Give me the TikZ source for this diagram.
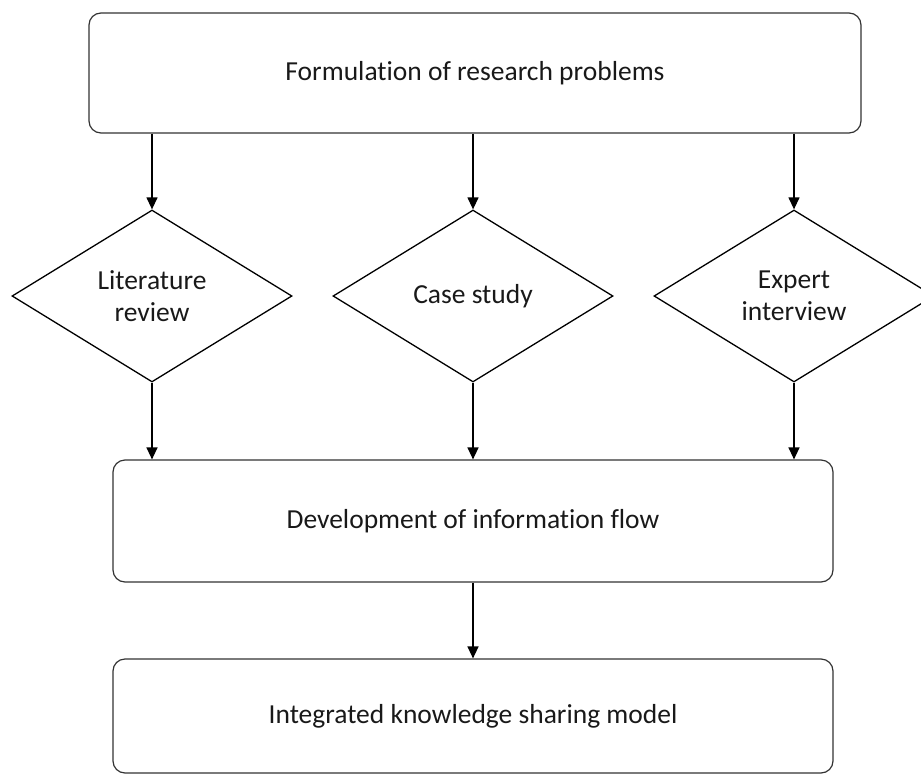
\documentclass[tikz,border=0pt]{standalone}
\usepackage{fontspec}
\setmainfont[RawFeature=-liga]{Carlito}
\usetikzlibrary{shapes.geometric,arrows.meta}
\begin{document}
\begin{tikzpicture}[x=1pt,y=-1pt,
  box/.style={draw=black!80, line width=1.2pt, rounded corners=12pt, inner sep=0pt, text=black!90, font=\fontsize{27.5}{32}\selectfont},
  dia/.style={draw=black, line width=1.3pt, diamond, minimum width=280pt, minimum height=172pt, inner sep=0pt, align=center, text=black!90, font=\fontsize{27.5}{32}\selectfont},
  arr/.style={draw=black, line width=1.3pt, -{Triangle[length=12pt,width=11pt]}}]
\useasboundingbox (0,0) rectangle (921,774);
\node[box, minimum width=772pt, minimum height=120pt] (top) at (475,73) {Formulation of research problems};
\node[dia] (L) at (152,296) {Literature\\review};
\node[dia] (C) at (473,296) {Case study};
\node[dia] (E) at (794,296) {Expert\\interview};
\node[box, minimum width=720pt, minimum height=122pt] (mid) at (473,521) {Development of information flow};
\node[box, minimum width=720pt, minimum height=114pt] (bot) at (473,716) {Integrated knowledge sharing model};
\draw[arr] (top.south -| L.north) -- (L.north);
\draw[arr] (top.south -| C.north) -- (C.north);
\draw[arr] (top.south -| E.north) -- (E.north);
\draw[arr] (L.south) -- (L.south |- mid.north);
\draw[arr] (C.south) -- (C.south |- mid.north);
\draw[arr] (E.south) -- (E.south |- mid.north);
\draw[arr] (mid.south) -- (bot.north);
\end{tikzpicture}
\end{document}
